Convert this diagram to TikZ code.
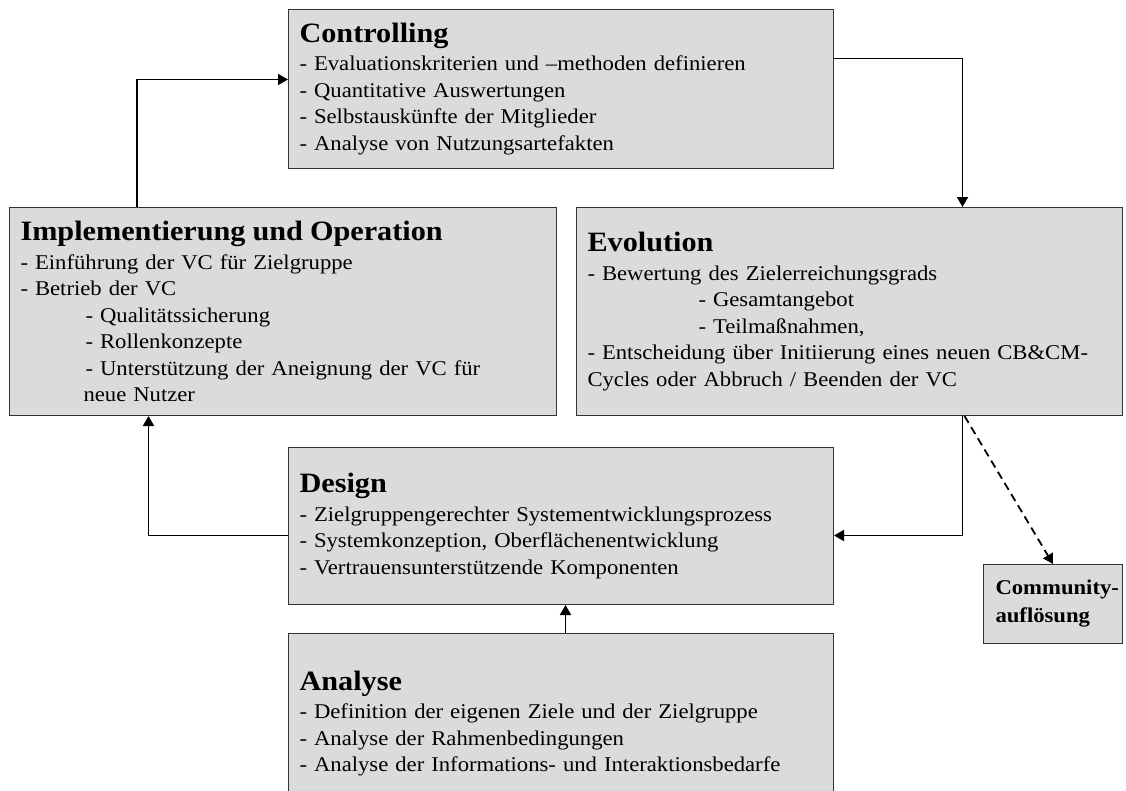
\documentclass[tikz,border=0pt]{standalone}
\usepackage{fontspec}
\setmainfont[FakeStretch=1.08]{Liberation Serif}
\usetikzlibrary{arrows.meta}
\newcommand{\phasehead}[1]{{\fontsize{28}{26.5}\selectfont\bfseries #1}\\[2pt]}
\newcommand{\inset}[1]{\hspace*{#1pt}}
\begin{document}
\begin{tikzpicture}[x=1pt,y=-1pt]
\tikzset{phase/.style = {draw=black!80, fill=black!14, line width=1pt, rectangle, anchor=north west,
    inner xsep=11pt, inner ysep=0pt, align=left, font=\fontsize{21}{26.5}\selectfont},
  flow/.style = {line width=1.8pt, -{Triangle[width=11pt,length=10pt]}}}
\clip (0,0) rectangle (1126,790);
\node[phase, minimum width=545pt, minimum height=159pt, text width=523pt] (ctrl) at (288,9)
  {\phasehead{Controlling}- Evaluationskriterien und –methoden definieren\\- Quantitative Auswertungen\\- Selbstauskünfte der Mitglieder\\- Analyse von Nutzungsartefakten};
\node[phase, minimum width=547pt, minimum height=208pt, text width=525pt] (impl) at (9,207)
  {\phasehead{Implementierung und Operation}- Einführung der VC für Zielgruppe\\- Betrieb der VC\\
   \inset{65}- Qualitätssicherung\\\inset{65}- Rollenkonzepte\\\inset{65}- Unterstützung der Aneignung der VC für\\\inset{63}neue Nutzer};
\node[phase, minimum width=546pt, minimum height=208pt, text width=524pt] (evol) at (576,207)
  {\phasehead{Evolution}- Bewertung des Zielerreichungsgrads\\\inset{111}- Gesamtangebot\\\inset{111}- Teilmaßnahmen,\\
   - Entscheidung über Initiierung eines neuen CB\&CM-\\Cycles oder Abbruch / Beenden der VC};
\node[phase, minimum width=545pt, minimum height=157pt, text width=523pt] (design) at (288,447)
  {\phasehead{Design}- Zielgruppengerechter Systementwicklungsprozess\\- Systemkonzeption, Oberflächenentwicklung\\- Vertrauensunterstützende Komponenten};
\node[phase, minimum width=545pt, minimum height=180pt, text width=523pt] (analyse) at (288,633)
  {\phasehead{Analyse}- Definition der eigenen Ziele und der Zielgruppe\\- Analyse der Rahmenbedingungen\\- Analyse der Informations- und Interaktionsbedarfe};
\node[phase, minimum width=139pt, minimum height=79pt, text width=115pt, inner xsep=12pt,
  font=\fontsize{21}{28}\selectfont\bfseries] (comm) at (983,564) {\mbox{Community-}\\auflösung};
\draw[flow] ([xshift=128pt]impl.north west) |- ([yshift=9.5pt]ctrl.west);
\draw[flow] ([yshift=30.5pt]ctrl.east) -| ([xshift=113pt]evol.north);
\draw[flow] ([xshift=113pt]evol.south) |- ([yshift=-9.5pt]design.east);
\draw[flow] ([yshift=-9.5pt]design.west) -| ([xshift=-134.5pt]impl.south);
\draw[flow] ([xshift=4.5pt]analyse.north) -- ([xshift=4.5pt]design.south);
\draw[flow, dashed, dash pattern=on 8pt off 5pt] ([xshift=115pt]evol.south) -- (comm.north);
\end{tikzpicture}
\end{document}
